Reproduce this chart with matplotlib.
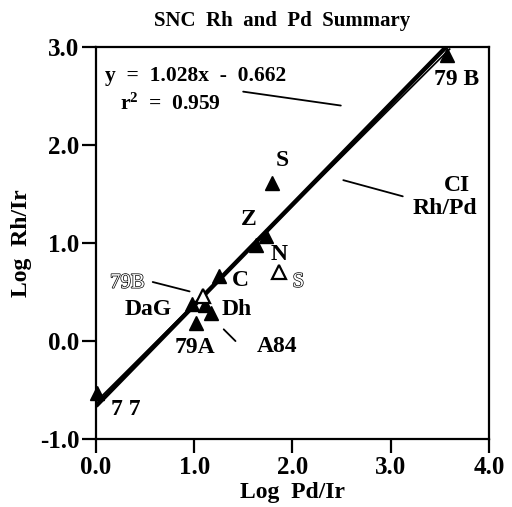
import matplotlib
matplotlib.use("Agg")
import matplotlib.pyplot as plt
import matplotlib.patheffects as pe
import numpy as np

plt.rcParams['font.family'] = ['Liberation Serif', 'DejaVu Serif']
plt.rcParams['font.weight'] = 'bold'
plt.rcParams['mathtext.fontset'] = 'custom'
plt.rcParams['mathtext.rm'] = 'Liberation Serif:bold'
plt.rcParams['mathtext.bf'] = 'Liberation Serif:bold'
plt.rcParams['mathtext.default'] = 'bf'

# filled-triangle samples (Log Pd/Ir, Log Rh/Ir)
filled_names = ["77", "DaG", "79A", "Dh", "A84", "C", "N", "Z", "S", "79B"]
filled_x = [0.01, 0.98, 1.02, 1.11, 1.17, 1.25, 1.63, 1.73, 1.79, 3.57]
filled_y = [-0.53, 0.38, 0.18, 0.37, 0.29, 0.66, 0.98, 1.07, 1.61, 2.92]

# open-triangle samples
open_names = ["79B", "S"]
open_x = [1.09, 1.86]
open_y = [0.46, 0.70]

# regression line and CI Rh/Pd reference line
reg_slope, reg_int = 1.028, -0.662
ci_slope, ci_int = 1.0, -0.62
line_x = [0.0, 3.6]

xticks = [0.0, 1.0, 2.0, 3.0, 4.0]
yticks = [-1.0, 0.0, 1.0, 2.0, 3.0]

fig = plt.figure(figsize=(5.12, 5.07), dpi=100)
ax = fig.add_axes([0.1875, 0.134, 0.7675, 0.773])
ax.set_xlim(0, 4)
ax.set_ylim(-1, 3)

lx = np.array(line_x)
ax.plot(lx, reg_slope * lx + reg_int, color='black', lw=3.2, solid_capstyle='butt', zorder=2)
ax.plot(lx, ci_slope * lx + ci_int, color='black', lw=1.2, zorder=2)

ax.plot(filled_x, filled_y, linestyle='none', marker='^', markersize=10,
        color='black', zorder=3, clip_on=False)
ax.plot(open_x, open_y, linestyle='none', marker='^', markersize=10,
        markerfacecolor='white', markeredgecolor='black', markeredgewidth=1.6, zorder=3)

fs = 17
# labels for filled points
ax.text(3.67, 2.67, "79 B", fontsize=fs, fontweight='bold', ha='center', va='center')
ax.text(1.90, 1.84, "S", fontsize=fs, fontweight='bold', ha='center', va='center')
ax.text(1.55, 1.24, "Z", fontsize=fs, fontweight='bold', ha='center', va='center')
ax.text(1.86, 0.88, "N", fontsize=fs, fontweight='bold', ha='center', va='center')
ax.text(1.47, 0.62, "C", fontsize=fs, fontweight='bold', ha='center', va='center')
ax.text(0.53, 0.32, "DaG", fontsize=fs, fontweight='bold', ha='center', va='center')
ax.text(1.43, 0.32, "Dh", fontsize=fs, fontweight='bold', ha='center', va='center')
ax.text(1.01, -0.07, "79A", fontsize=fs, fontweight='bold', ha='center', va='center')
ax.text(1.84, -0.06, "A84", fontsize=fs, fontweight='bold', ha='center', va='center')
ax.text(0.30, -0.70, "7 7", fontsize=fs, fontweight='bold', ha='center', va='center')

# outlined labels for open points
hollow = [pe.withStroke(linewidth=1.0, foreground='black')]
ax.text(0.32, 0.59, "79B", fontsize=15, fontweight='normal', color='white',
        ha='center', va='center', path_effects=hollow)
ax.text(2.06, 0.60, "S", fontsize=15, fontweight='normal', color='white',
        ha='center', va='center', path_effects=hollow)

# leader lines
ax.annotate("", xy=(0.98, 0.50), xytext=(0.55, 0.61),
            arrowprops=dict(arrowstyle='-', color='black', lw=1.3))
ax.annotate("", xy=(1.28, 0.14), xytext=(1.44, -0.02),
            arrowprops=dict(arrowstyle='-', color='black', lw=1.3))
ax.annotate("", xy=(1.47, 2.55), xytext=(2.52, 2.40),
            arrowprops=dict(arrowstyle='-', color='black', lw=1.3))
ax.annotate("", xy=(2.49, 1.65), xytext=(3.15, 1.47),
            arrowprops=dict(arrowstyle='-', color='black', lw=1.3))

ax.text(3.67, 1.59, "CI", fontsize=fs, fontweight='bold', ha='center', va='center')
ax.text(3.55, 1.35, "Rh/Pd", fontsize=fs, fontweight='bold', ha='center', va='center')

ax.text(0.09, 2.71, "y  =  1.028x  -  0.662", fontsize=15.5, fontweight='bold',
        ha='left', va='center')
ax.text(0.24, 2.42, r"r$^{2}$  =  0.959", fontsize=15.5, fontweight='bold',
        ha='left', va='center')

ax.set_xticks(xticks)
ax.set_yticks(yticks)
ax.set_xticklabels([f"{v:.1f}" for v in xticks])
ax.set_yticklabels([f"{v:.1f}" for v in yticks])
ax.tick_params(direction='out', length=10, width=1.6, labelsize=18, pad=2)
for lab in ax.get_xticklabels() + ax.get_yticklabels():
    lab.set_fontweight('bold')
for s in ax.spines.values():
    s.set_linewidth(1.6)

ax.set_xlabel("Log  Pd/Ir", fontsize=17, fontweight='bold', labelpad=2)
ax.set_ylabel("Log  Rh/Ir", fontsize=17, fontweight='bold', labelpad=6)
fig.text(0.551, 0.958, "SNC  Rh  and  Pd  Summary", fontsize=15, fontweight='bold',
         ha='center', va='center')

fig.savefig("out.png", dpi=100)
